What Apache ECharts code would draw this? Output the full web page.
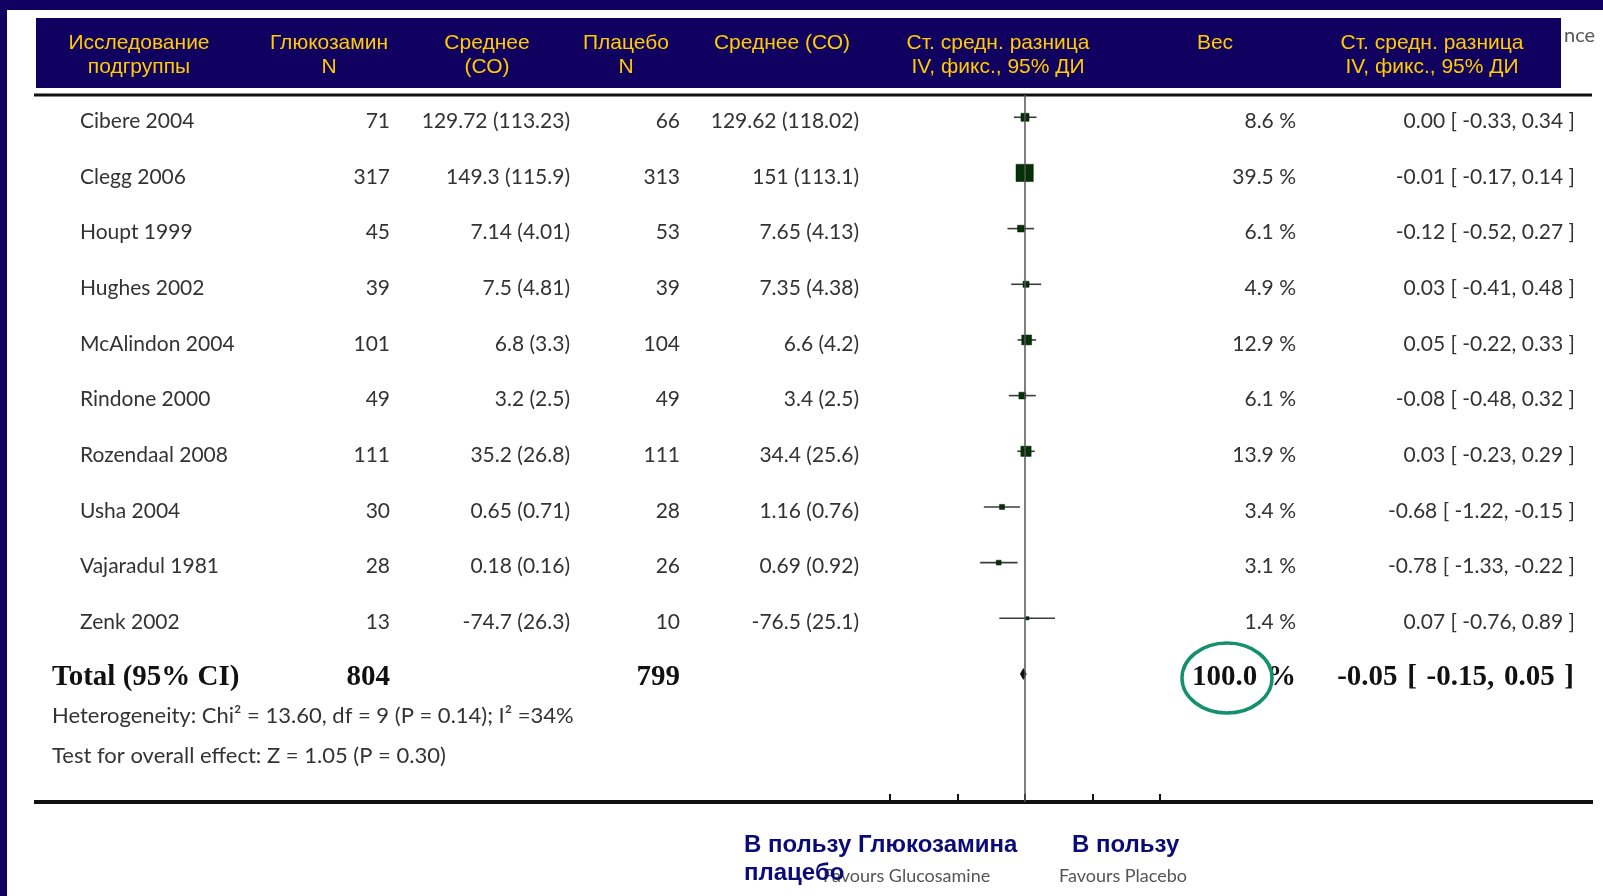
<!DOCTYPE html>
<html>
<head>
<meta charset="utf-8">
<title>Глюкозамин против плацебо</title>
<script src="https://cdn.jsdelivr.net/npm/echarts@6/dist/echarts.min.js"></script>
<style>
  html, body { margin: 0; padding: 0; background: #ffffff; }
  #chart { width: 1603px; height: 896px; }
</style>
</head>
<body>
<div id="chart"></div>
<script>
// Study rows of the forest plot (standardised mean difference, fixed effect)
const studies = ['Cibere 2004', 'Clegg 2006', 'Houpt 1999', 'Hughes 2002', 'McAlindon 2004',
                 'Rindone 2000', 'Rozendaal 2008', 'Usha 2004', 'Vajaradul 1981', 'Zenk 2002'];
const glucN = [71, 317, 45, 39, 101, 49, 111, 30, 28, 13];
const glucMeanSD = ['129.72 (113.23)', '149.3 (115.9)', '7.14 (4.01)', '7.5 (4.81)', '6.8 (3.3)',
                    '3.2 (2.5)', '35.2 (26.8)', '0.65 (0.71)', '0.18 (0.16)', '-74.7 (26.3)'];
const placN = [66, 313, 53, 39, 104, 49, 111, 28, 26, 10];
const placMeanSD = ['129.62 (118.02)', '151 (113.1)', '7.65 (4.13)', '7.35 (4.38)', '6.6 (4.2)',
                    '3.4 (2.5)', '34.4 (25.6)', '1.16 (0.76)', '0.69 (0.92)', '-76.5 (25.1)'];
const weights = [8.6, 39.5, 6.1, 4.9, 12.9, 6.1, 13.9, 3.4, 3.1, 1.4];
const smd = [0.00, -0.01, -0.12, 0.03, 0.05, -0.08, 0.03, -0.68, -0.78, 0.07];
const ciLow = [-0.33, -0.17, -0.52, -0.41, -0.22, -0.48, -0.23, -1.22, -1.33, -0.76];
const ciHigh = [0.34, 0.14, 0.27, 0.48, 0.33, 0.32, 0.29, -0.15, -0.22, 0.89];

// Pooled result
const totalLabel = 'Total (95% CI)';
const totalGlucN = 804;
const totalPlacN = 799;
const totalWeight = 100.0;
const totalSmd = -0.05;
const totalLow = -0.15;
const totalHigh = 0.05;
const heterogeneityText = 'Heterogeneity: Chi² = 13.60, df = 9 (P = 0.14); I² =34%';
const overallEffectText = 'Test for overall effect: Z = 1.05 (P = 0.30)';

// Column headings
const headers = [
  ['Исследование', 'подгруппы'],
  ['Глюкозамин', 'N'],
  ['Среднее', '(СО)'],
  ['Плацебо', 'N'],
  ['Среднее (СО)', ''],
  ['Ст. средн. разница', 'IV, фикс., 95% ДИ'],
  ['Вес', ''],
  ['Ст. средн. разница', 'IV, фикс., 95% ДИ']
];
const xTicks = [-4, -2, 0, 2, 4];

const NAVY = '#10005f';
const YELLOW = '#ffcc00';
const BODY = '#333333';
const BODY_FONT = '"Lato", "Open Sans", sans-serif';
const SERIF = '"Liberation Serif", "DejaVu Serif", serif';
const HEAD_FONT = '"Liberation Sans", Arial, sans-serif';

const f2 = v => v.toFixed(2);
const ciText = (m, l, h, sp) => {
  sp = sp || ' ';
  return f2(m) + sp + '[' + sp + f2(l) + ',' + sp + f2(h) + sp + ']';
};

const rows = studies.map((s, i) => ({
  value: [smd[i], i, ciLow[i], ciHigh[i], weights[i]]
}));

function txt(x, y, text, opt) {
  opt = opt || {};
  const align = opt.align || 'left';
  return {
    type: 'text', x: x, y: y, silent: true,
    style: {
      text: text,
      fill: opt.fill || BODY,
      fontSize: opt.size || 21,
      fontFamily: opt.family || BODY_FONT,
      fontWeight: opt.weight || 'normal',
      align: align, textAlign: align,
      verticalAlign: 'middle', textVerticalAlign: 'middle'
    }
  };
}

const chart = echarts.init(document.getElementById('chart'), null, { renderer: 'canvas' });

// Column x positions for the table text (right edges unless stated)
const COL = { name: 80, gN: 390, gM: 570, pN: 680, pM: 859, w: 1296, ci: 1575 };
const TEXT_DY = 4;

const option = {
  animation: false,
  backgroundColor: '#ffffff',
  grid: { left: 890, width: 270, top: 95, height: 707, containLabel: false },
  xAxis: {
    type: 'value', min: -4, max: 4, interval: 2, position: 'bottom',
    axisLine: { show: false, onZero: false },
    axisTick: { show: true, inside: true, length: 8, lineStyle: { color: '#111', width: 2 } },
    axisLabel: { show: false },
    splitLine: { show: false }
  },
  yAxis: {
    type: 'value', inverse: true, min: -0.4, max: 12.3,
    show: false, splitLine: { show: false }
  },
  series: [
    {
      // confidence interval whiskers
      type: 'custom', name: 'ci', z: 3, clip: false,
      data: rows,
      renderItem: function (params, api) {
        const a = api.coord([api.value(2), api.value(1)]);
        const b = api.coord([api.value(3), api.value(1)]);
        return {
          type: 'line',
          shape: { x1: a[0], y1: a[1], x2: b[0], y2: b[1] },
          style: { stroke: '#3c3c3c', lineWidth: 1.6 }
        };
      },
      markLine: {
        silent: true, symbol: ['none', 'none'],
        label: { show: false },
        lineStyle: { color: '#555555', width: 1.5, type: 'solid' },
        data: [{ xAxis: 0 }]
      }
    },
    {
      // study estimates, square area proportional to weight
      type: 'scatter', name: 'smd', z: 4,
      symbol: 'rect',
      symbolSize: function (v) { return 2.75 * Math.sqrt(v[4]); },
      itemStyle: { color: '#063006', opacity: 1, borderColor: '#031f03', borderWidth: 0.5 },
      data: rows
    },
    {
      // pooled estimate diamond
      type: 'custom', name: 'total', z: 4, clip: false,
      data: [[totalSmd, 10, totalLow, totalHigh]],
      renderItem: function (params, api) {
        const c = api.coord([api.value(0), api.value(1)]);
        const l = api.coord([api.value(2), api.value(1)]);
        const r = api.coord([api.value(3), api.value(1)]);
        const h = 6;
        return {
          type: 'polygon',
          shape: { points: [[l[0], c[1]], [c[0], c[1] - h], [r[0], c[1]], [c[0], c[1] + h]] },
          style: { fill: '#111111' }
        };
      }
    },
    {
      // table text for each study row
      type: 'custom', name: 'table', z: 5, clip: false, silent: true,
      data: studies.map((s, i) => [0, i]),
      renderItem: function (params, api) {
        const i = params.dataIndex;
        const y = api.coord([0, api.value(1)])[1] + TEXT_DY;
        return {
          type: 'group',
          children: [
            txt(COL.name, y, studies[i]),
            txt(COL.gN, y, String(glucN[i]), { align: 'right' }),
            txt(COL.gM, y, glucMeanSD[i], { align: 'right' }),
            txt(COL.pN, y, String(placN[i]), { align: 'right' }),
            txt(COL.pM, y, placMeanSD[i], { align: 'right' }),
            txt(COL.w, y, weights[i].toFixed(1) + ' %', { align: 'right' }),
            txt(COL.ci, y, ciText(smd[i], ciLow[i], ciHigh[i]), { align: 'right' })
          ]
        };
      }
    },
    {
      // pooled row text
      type: 'custom', name: 'totalText', z: 5, clip: false, silent: true,
      data: [[0, 10]],
      renderItem: function (params, api) {
        const y = api.coord([0, api.value(1)])[1] + TEXT_DY;
        const o = { family: SERIF, weight: 'bold', size: 29, fill: '#111111' };
        const or = Object.assign({ align: 'right' }, o);
        return {
          type: 'group',
          children: [
            txt(52, y, totalLabel, o),
            txt(COL.gN, y, String(totalGlucN), or),
            txt(COL.pN, y, String(totalPlacN), or),
            txt(COL.w, y, totalWeight.toFixed(1) + ' \u200A%', or),
            txt(COL.ci - 1, y, ciText(totalSmd, totalLow, totalHigh, ' \u200A'), or)
          ]
        };
      }
    }
  ],
  graphic: []
};

// Static slide furniture: frame, header band, rules, footnotes and axis captions
const g = [];
g.push({ type: 'rect', shape: { x: 0, y: 0, width: 1603, height: 10 }, style: { fill: NAVY }, z: 10 });
g.push({ type: 'rect', shape: { x: 0, y: 0, width: 7, height: 896 }, style: { fill: NAVY }, z: 10 });
g.push(txt(1564, 36, 'nce', { fill: '#555555', size: 20 }));
g.push({ type: 'rect', shape: { x: 36, y: 18, width: 1525, height: 70 }, style: { fill: NAVY }, z: 10 });
const headX = [139, 329, 487, 626, 782, 998, 1215, 1432];
headers.forEach((h, i) => {
  const o = { fill: YELLOW, size: 21, family: HEAD_FONT, align: 'center' };
  const a = txt(headX[i], 43, h[0], o); a.z = 11; g.push(a);
  if (h[1]) { const b = txt(headX[i], 67.5, h[1], o); b.z = 11; g.push(b); }
});
g.push({ type: 'line', shape: { x1: 34, y1: 95, x2: 1592, y2: 95 }, style: { stroke: '#111111', lineWidth: 3 }, z: 2 });
g.push({ type: 'line', shape: { x1: 34, y1: 802, x2: 1593, y2: 802 }, style: { stroke: '#111111', lineWidth: 4 }, z: 2 });
g.push(txt(52, 716, heterogeneityText, { size: 22 }));
g.push(txt(52, 756, overallEffectText, { size: 22 }));
g.push({ type: 'ellipse', shape: { cx: 1227, cy: 678, rx: 45, ry: 35 }, style: { fill: 'none', stroke: '#14916c', lineWidth: 3.5 }, z: 12 });
g.push(txt(823, 876, 'Favours Glucosamine', { fill: '#555555', size: 18 }));
g.push(txt(1059, 876, 'Favours Placebo', { fill: '#555555', size: 18 }));
const lab = { fill: '#0b0b78', size: 24, family: HEAD_FONT, weight: 'bold' };
const l1 = txt(744, 845, 'В пользу Глюкозамина', lab); l1.z = 12; g.push(l1);
const l2 = txt(744, 873, 'плацебо', lab); l2.z = 12; g.push(l2);
const l3 = txt(1072, 845, 'В пользу', lab); l3.z = 12; g.push(l3);
option.graphic = g;

chart.setOption(option);
</script>
</body>
</html>
